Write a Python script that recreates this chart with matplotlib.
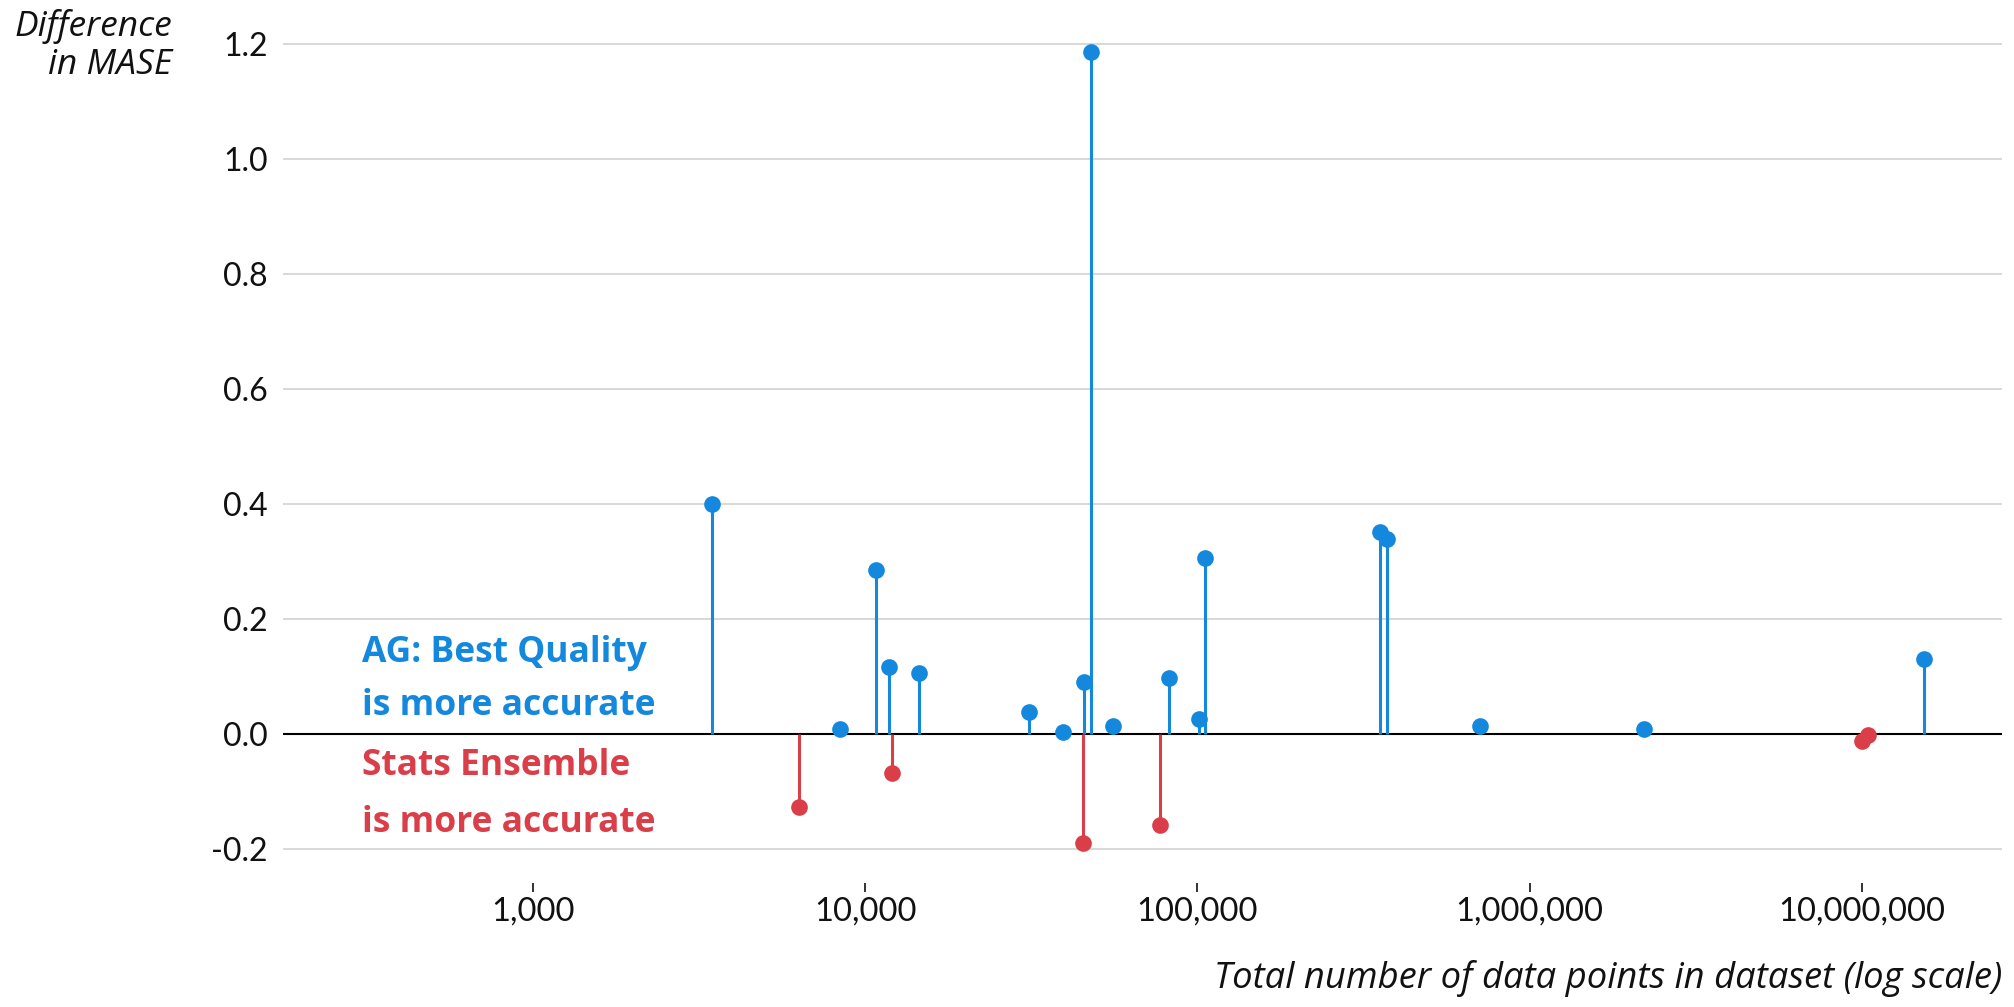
import matplotlib
matplotlib.use("Agg")
import matplotlib.pyplot as plt
from matplotlib.ticker import FixedLocator, FuncFormatter

plt.rcParams['axes.unicode_minus'] = False

# Data: total data points (x) and difference in MASE (y)
blue_x = [3450, 8400, 10800, 11800, 14550, 31200, 39300, 45400, 47900, 55600,
          82000, 101000, 105000, 355000, 372000, 710000, 2210000, 15400000]
blue_y = [0.400, 0.008, 0.285, 0.117, 0.107, 0.039, 0.003, 0.091, 1.186, 0.014,
          0.098, 0.027, 0.306, 0.352, 0.340, 0.014, 0.009, 0.130]

red_x = [6300, 12050, 45300, 77000, 10000000, 10450000]
red_y = [-0.127, -0.067, -0.190, -0.158, -0.012, -0.002]

x_ticks = [1000, 10000, 100000, 1000000, 10000000]
y_ticks = [-0.2, 0.0, 0.2, 0.4, 0.6, 0.8, 1.0, 1.2]

BLUE = '#1388dc'
RED = '#da3e48'

fig = plt.figure(figsize=(20.15, 10.07), dpi=100)
ax = fig.add_axes([283/2015, 0.1231, (2002-283)/2015, 0.8475])

ax.set_xscale('log')
ax.set_xlim(176.8, 2.64e7)
ax.set_ylim(-0.259, 1.225)

for sp in ax.spines.values():
    sp.set_visible(False)

ax.set_yticks(y_ticks)
ax.yaxis.set_major_formatter(FuncFormatter(lambda v, p: f"{v:.1f}"))
ax.grid(axis='y', color='#d2d2d2', linewidth=1.2, zorder=0)
ax.axhline(0, color='black', linewidth=1.5, zorder=2)

ax.xaxis.set_major_locator(FixedLocator(x_ticks))
ax.xaxis.set_minor_locator(FixedLocator([]))
ax.xaxis.set_major_formatter(FuncFormatter(lambda v, p: f"{int(round(v)):,}"))

ax.tick_params(axis='y', length=0, pad=11, labelsize=23, labelcolor='#111111')
ax.tick_params(axis='x', length=6.5, width=1.2, direction='out', pad=3,
               labelsize=23.5, labelcolor='#111111', color='#111111')
for lab in ax.get_xticklabels() + ax.get_yticklabels():
    lab.set_family('Lato')

# stems and markers
ax.vlines(blue_x, 0, blue_y, color=BLUE, linewidth=2.2, zorder=3)
ax.plot(blue_x, blue_y, 'o', color=BLUE, markersize=12, markeredgewidth=0, zorder=4)
ax.vlines(red_x, 0, red_y, color=RED, linewidth=2.2, zorder=3)
ax.plot(red_x, red_y, 'o', color=RED, markersize=12, markeredgewidth=0, zorder=4)

# axis labels
lab_kw = dict(style='italic', family='Open Sans', color='#111111')
fig.text(172/2015, 1 - 36/1007, "Difference", ha='right', va='baseline',
         fontsize=25.5, **lab_kw)
fig.text(172/2015, 1 - 74/1007, "in MASE", ha='right', va='baseline',
         fontsize=25.5, **lab_kw)
fig.text(2002/2015, 1 - 988/1007, "Total number of data points in dataset (log scale)",
         ha='right', va='baseline', fontsize=26.2, **lab_kw)

# annotations
tx = 362/2015
ann_kw = dict(ha='left', va='baseline', fontsize=25.5, weight='bold', family='Open Sans')
fig.text(tx, 1 - 662/1007, "AG: Best Quality", color=BLUE, **ann_kw)
fig.text(tx, 1 - 715/1007, "is more accurate", color=BLUE, **ann_kw)
fig.text(tx, 1 - 775/1007, "Stats Ensemble", color=RED, **ann_kw)
fig.text(tx, 1 - 832/1007, "is more accurate", color=RED, **ann_kw)

fig.savefig("out.png", dpi=100)
